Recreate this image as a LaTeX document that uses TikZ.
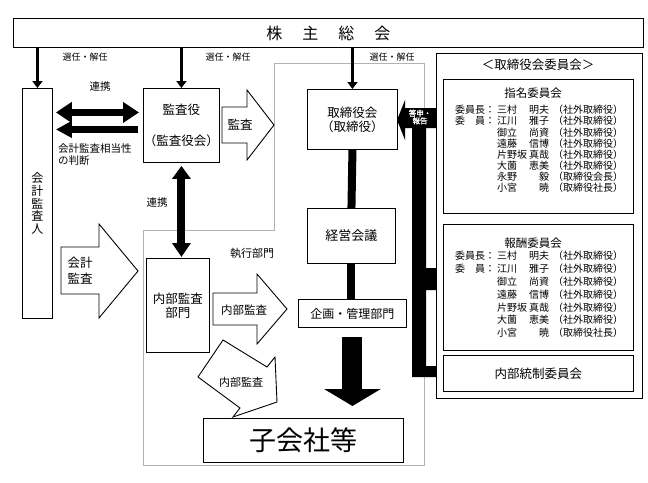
\documentclass[tikz,border=0pt]{standalone}
\usepackage{fontspec}
\setmainfont{Noto Sans CJK JP}
\newfontfamily\boldcjk[FakeBold=2]{Noto Sans CJK JP}
\usetikzlibrary{arrows.meta}
\newcommand\mrow[4]{\makebox[42pt][l]{#1}\makebox[32pt][l]{#2}\makebox[20pt][r]{#3}\hspace{4pt}（#4）}
\newcommand\fsz[2]{\fontsize{#1}{#2}\selectfont}
\newcommand\chairlbl{委員長：}
\newcommand\memblbl{委\hspace{10pt}員：}
\newcommand\nolbl{}
\begin{document}
\begin{tikzpicture}[x=1pt,y=-1pt,
  box/.style={draw, line width=0.9pt, fill=white, inner sep=0pt, align=center, anchor=north west},
  lbl/.style={inner sep=0pt, align=center},
  member/.style={inner sep=0pt, anchor=west, font=\fsz{10}{11}},
  outl/.style={draw, line width=0.9pt, fill=white, line join=miter},
  elect/.style={line width=3pt, -{Triangle[length=7pt,width=10pt]}},
  dblH/.style={line width=7pt, {Triangle[length=16pt,width=20pt]}-{Triangle[length=16pt,width=20pt]}},
  sglH/.style={line width=6.5pt, -{Triangle[length=16pt,width=16pt]}},
  dblV/.style={line width=8pt, {Triangle[length=13pt,width=18pt]}-{Triangle[length=14pt,width=18pt]}},
  bar/.style={line width=8pt},
  bigarrow/.style={line width=20pt, -{Triangle[length=17pt,width=56pt]}}
]
\useasboundingbox (0,0) rectangle (648,482);

% executive region (gray outline)
\draw[gray!60, line width=0.8pt] (274,63) -- (424,63) -- (424,465) -- (143,465) -- (143,230) -- (274,230) -- cycle;

% boxes
\node[box, minimum width=630pt, minimum height=29pt, font=\fsz{16}{18}] (kabu) at (13,18) {株\hspace{20pt}主\hspace{20pt}総\hspace{20pt}会};
\node[box, minimum width=30pt, minimum height=230pt, font=\fsz{12}{12.6}] (kaikei) at (22,88) {会\\計\\監\\査\\人};
\node[box, minimum width=76pt, minimum height=74pt, font=\fsz{12.5}{15}] (kansa) at (143,88) {監査役\\[16pt]（監査役会）};
\node[box, minimum width=90pt, minimum height=60pt, font=\fsz{12.5}{14}] (tori) at (307,89) {取締役会\\（取締役）};
\node[box, minimum width=88pt, minimum height=55pt, font=\fsz{13}{15}] (keiei) at (307,208) {経営会議};
\node[box, minimum width=108pt, minimum height=28pt, font=\fsz{12}{14}] (kikaku) at (298,299) {企画・管理部門};
\node[box, minimum width=63pt, minimum height=94pt, font=\fsz{12.5}{14}] (naibu) at (146,258) {内部監査\\部門};
\node[box, minimum width=200pt, minimum height=44pt, font=\fsz{27}{30}] (ko) at (203,418) {子会社等};

% committees
\node[box, minimum width=206pt, minimum height=345pt] (iin) at (436,53) {};
\node[lbl, font=\fsz{12.5}{14}] (iintitle) at (538,65) {＜取締役会委員会＞};
\node[box, minimum width=190pt, minimum height=134pt] (shimei) at (443,79) {};
\node[lbl, font=\fsz{11.5}{13}] (shimeit) at (533,93) {指名委員会};
\foreach \ma/\mb/\mc/\md [count=\i] in {\chairlbl/三村/明夫/社外取締役, \memblbl/江川/雅子/社外取締役, \nolbl/御立/尚資/社外取締役, \nolbl/遠藤/信博/社外取締役, \nolbl/片野坂/真哉/社外取締役, \nolbl/大薗/恵美/社外取締役, \nolbl/永野/毅/取締役会長, \nolbl/小宮/暁/取締役社長}
  \node[member] (sm\i) at (455,{110+(\i-1)*11.1}) {\mrow{\ma}{\mb}{\mc}{\md}};
\node[box, minimum width=190pt, minimum height=126pt] (houshu) at (443,224) {};
\node[lbl, font=\fsz{11.5}{13}] (houshut) at (533,243) {報酬委員会};
\foreach \ma/\mb/\mc/\md [count=\i] in {\chairlbl/三村/明夫/社外取締役, \memblbl/江川/雅子/社外取締役, \nolbl/御立/尚資/社外取締役, \nolbl/遠藤/信博/社外取締役, \nolbl/片野坂/真哉/社外取締役, \nolbl/大薗/恵美/社外取締役, \nolbl/小宮/暁/取締役社長}
  \node[member] (hm\i) at (455,{256+(\i-1)*12.8}) {\mrow{\ma}{\mb}{\mc}{\md}};
\node[box, minimum width=190pt, minimum height=36pt, font=\fsz{12.5}{14}] (tousei) at (443,355) {内部統制委員会};

% election arrows
\draw[elect] (kabu.south -| kaikei.north) -- (kaikei.north);
\draw[elect] (kabu.south -| kansa.north) -- (kansa.north);
\draw[elect] (kabu.south -| tori.north) -- (tori.north);
\node[lbl, font=\fsz{9}{10}] (e1) at (85,57) {選任・解任};
\node[lbl, font=\fsz{9}{10}] (e2) at (228,57) {選任・解任};
\node[lbl, font=\fsz{9}{10}] (e3) at (392,57) {選任・解任};

% auditor <-> kansayaku
\coordinate (la1) at ([yshift=13pt]kansa.west);
\coordinate (la2) at ([yshift=-4pt]kansa.west);
\draw[dblH, shorten <=3pt, shorten >=4pt] (kaikei.east |- la1) -- (la1);
\draw[sglH, shorten <=5pt, shorten >=3pt] (la2) -- (kaikei.east |- la2);
\node[lbl, font=\fsz{10.5}{12}] (renkei1) at (100,87) {連携};
\node[lbl, font=\fsz{10.5}{12}, align=left, anchor=west] (soutou) at (58,155) {会計監査相当性\\の判断};

% kansayaku <-> internal audit
\draw[dblV, shorten <=3pt, shorten >=1pt] (kansa.south) -- (kansa.south |- naibu.north);
\node[lbl, font=\fsz{10.5}{12}] (renkei2) at (157,203) {連携};

% outline block arrows
\draw[outl] (222,107) -- (247,107) -- (247,90) -- (274,125) -- (247,160) -- (247,143) -- (222,143) -- cycle;
\node[lbl, font=\fsz{12.5}{14}] (kansaA) at (240,125) {監査};
\draw[outl] (61,247) -- (99,247) -- (99,224) -- (138,271) -- (99,318) -- (99,294) -- (61,294) -- cycle;
\node[lbl, font=\fsz{12.5}{16}] (kaikeiA) at (80,271) {会計\\監査};
\draw[outl] (213,293) -- (257,293) -- (257,274) -- (287,309) -- (257,344) -- (257,325) -- (213,325) -- cycle;
\node[lbl, font=\fsz{11.5}{13}] (naibuA1) at (244,310) {内部監査};
\draw[outl] (198,377) -- (223,340) -- (267,367) -- (275,357) -- (277,402) -- (233,417) -- (240,408) -- cycle;
\node[lbl, font=\fsz{11}{13}] (naibuA2) at (241,382) {内部監査};
\node[lbl, font=\fsz{11}{13}] (shikkou) at (252,253) {執行部門};

% management chain
\draw[bar] (tori.south) -- (keiei.north);
\draw[bar] (keiei.south) -- (keiei.south |- kikaku.north);
\draw[bigarrow, shorten <=9pt, shorten >=12pt] (kikaku.south) -- (kikaku.south |- ko.north);

% committee report bar
\fill (405,100) -- (397,120) -- (405,140) -- (405,128) -- (412,128) -- (412,377) -- (436,377) -- (436,366) -- (426,366) -- (426,290) -- (436,290) -- (436,268) -- (426,268) -- (426,128) -- (436,128) -- (436,108) -- (405,108) -- cycle;
\node[lbl, font=\boldcjk\fsz{7.5}{7.5}, text=white] (toushin) at (420,117) {答申・\\報告};
\end{tikzpicture}
\end{document}
